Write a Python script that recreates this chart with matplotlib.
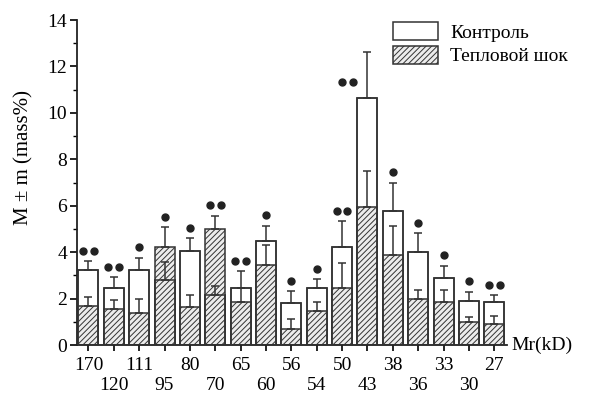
import matplotlib
matplotlib.use("Agg")
import matplotlib.pyplot as plt
from matplotlib.ticker import MultipleLocator
import numpy as np

plt.rcParams['font.family'] = ['Liberation Serif', 'DejaVu Serif']
plt.rcParams['hatch.color'] = '#555555'
plt.rcParams['hatch.linewidth'] = 0.7

labels = ['170', '120', '111', '95', '80', '70', '65', '60', '56',
          '54', '50', '43', '38', '36', '33', '30', '27']
control = [3.24, 2.47, 3.21, 2.81, 4.03, 2.14, 2.47, 4.46, 1.79,
           2.46, 4.21, 10.63, 5.76, 4.00, 2.90, 1.90, 1.86]
control_err = [0.37, 0.46, 0.55, 0.76, 0.58, 0.39, 0.72, 0.68, 0.52,
               0.37, 1.12, 1.99, 1.24, 0.81, 0.51, 0.39, 0.28]
heat = [1.69, 1.53, 1.39, 4.21, 1.64, 5.00, 1.86, 3.43, 0.67,
        1.46, 2.47, 5.93, 3.86, 1.97, 1.86, 0.97, 0.89]
heat_err = [0.38, 0.40, 0.58, 0.86, 0.50, 0.57, 0.61, 0.86, 0.43,
            0.40, 1.06, 1.58, 1.28, 0.42, 0.53, 0.24, 0.35]
signif = ['**', '**', '*', '*', '*', '**', '**', '*', '*',
          '*', '**', '**', '*', '*', '*', '*', '**']

fig = plt.figure(figsize=(5.93, 3.96), dpi=100)
ax = fig.add_axes([77/593, 1-345/396, (507-77)/593, (345-20)/396])

x = np.arange(len(labels))
w = 0.79
edge = '#333333'

ax.bar(x, control, width=w, color='white', edgecolor=edge, linewidth=1.1,
       zorder=1, label='Контроль')
ax.bar(x, heat, width=w, color='#ececec', edgecolor=edge, linewidth=1.1,
       hatch='//////', zorder=2, label='Тепловой шок')
ax.bar(x, control, width=w, fill=False, edgecolor=edge, linewidth=1.1,
       zorder=3)

ekw = dict(fmt='none', ecolor='#333333', elinewidth=1.1, capsize=3,
           capthick=1.1, zorder=4)
ax.errorbar(x, control, yerr=[np.zeros(len(x)), control_err], **ekw)
ax.errorbar(x, heat, yerr=[np.zeros(len(x)), heat_err], **ekw)

# significance marks (* / **), drawn as round dots as in the scan
tops = np.maximum(np.array(control) + np.array(control_err),
                  np.array(heat) + np.array(heat_err))
imax = int(np.argmax(tops))
for i, s in enumerate(signif):
    n = s.count('*')
    offs = (np.arange(n) - (n - 1) / 2) * 0.42
    if i == imax:
        cx = x[i] - 0.8
        cy = control[i] + 0.35 * control_err[i]
    else:
        cx = x[i]
        cy = tops[i] + 0.45
    ax.plot(cx + offs, np.full(n, cy), 'o', ms=5, color='#222222',
            zorder=5, clip_on=False)

ax.set_xlim(-0.45, len(labels) - 0.5)
ax.set_ylim(0, 14)
ax.yaxis.set_major_locator(MultipleLocator(2))
ax.yaxis.set_minor_locator(MultipleLocator(1))
ax.spines['top'].set_visible(False)
ax.spines['right'].set_visible(False)
for sp in ('left', 'bottom'):
    ax.spines[sp].set_linewidth(1.3)
    ax.spines[sp].set_color('#222222')
ax.tick_params(axis='y', which='major', direction='out', length=5, width=1.2,
               labelsize=14, pad=2)
ax.tick_params(axis='y', which='minor', direction='out', length=3, width=1.0)
ax.tick_params(axis='x', direction='out', length=4, width=1.2, labelsize=14,
               pad=5)
ax.set_xticks(x)
ax.set_xticklabels(labels)
for i, t in enumerate(ax.get_xticklabels()):
    if i % 2 == 1:
        t.set_y(-0.06)

ax.set_ylabel('M ± m (mass%)', fontsize=15)
ax.yaxis.set_label_coords(-0.102, 0.578)
ax.text(1.01, 0.0, 'Mr(kD)', transform=ax.transAxes, ha='left', va='center',
        fontsize=14)

ax.legend(loc='upper left', bbox_to_anchor=(393/593, 1-22/396),
          bbox_transform=fig.transFigure, frameon=False, fontsize=14,
          handlelength=2.3, handleheight=1.05, handletextpad=0.65,
          labelspacing=0.2, borderpad=0, borderaxespad=0)

fig.savefig('out.png', dpi=100)
